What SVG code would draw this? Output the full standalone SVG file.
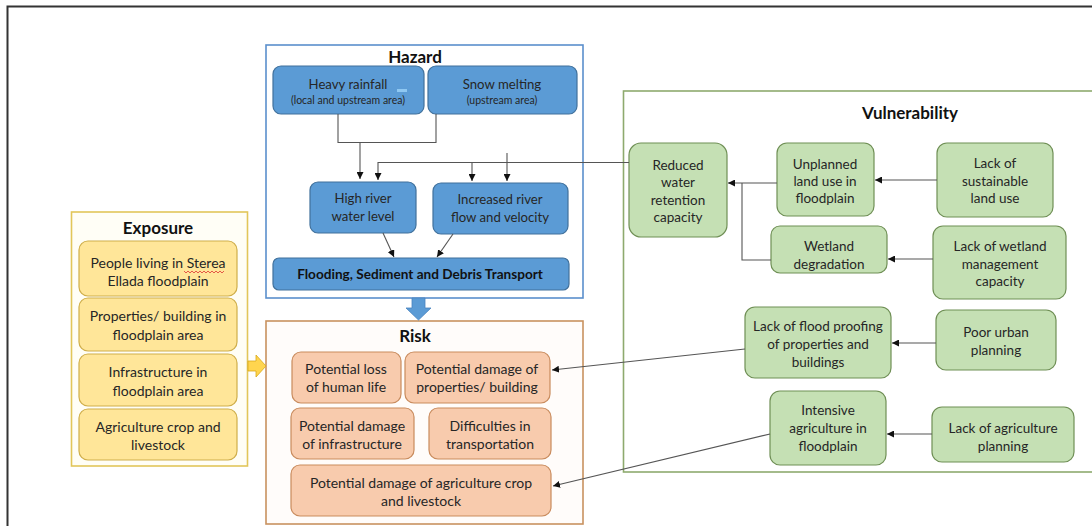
<svg xmlns="http://www.w3.org/2000/svg" width="1092" height="526" viewBox="0 0 1092 526">
<defs>
<marker id="ah" viewBox="0 0 10 10" refX="10" refY="5" markerWidth="7" markerHeight="7" markerUnits="userSpaceOnUse" orient="auto">
<path d="M0,0 L10,5 L0,10 z" fill="#111"/>
</marker>
<style>
text{font-family:Lato,"Open Sans","Liberation Sans",sans-serif;fill:#262626;text-anchor:middle;font-size:13.5px}
.t{font-weight:bold;font-size:17px;fill:#111}
.hz{font-size:13.2px}
.ex{font-size:14px}
.rk{font-size:14px}
.bl{fill:#5b9bd5;stroke:#41719c;stroke-width:1.2}
.or{fill:#f8cbad;stroke:#c98b5d;stroke-width:1.2}
.ye{fill:#ffe699;stroke:#cfae4a;stroke-width:1.2}
.gr{fill:#c5e0b4;stroke:#6f8f55;stroke-width:1.2}
.c{fill:none;stroke:#555;stroke-width:1.1}
.ca{fill:none;stroke:#555;stroke-width:1.1;marker-end:url(#ah)}
.sm{font-size:10.5px}
</style>
</defs>
<rect width="1092" height="526" fill="#fff"/>
<path d="M7.5,526 V6.5 H1092" fill="none" stroke="#333" stroke-width="2"/>

<g id="hazard">
<rect x="266" y="45" width="317" height="253" fill="#fff" stroke="#5b8fcc" stroke-width="1.6"/>
<text class="t" x="415" y="63">Hazard</text>
</g>
<g id="heavy-rainfall">
<rect class="bl" x="273" y="66" width="151" height="48" rx="8"/>
<text class="hz" x="348" y="89">Heavy rainfall</text>
<text class="sm" x="348" y="104">(local and upstream area)</text>
<rect x="397" y="89" width="10" height="3" fill="#8fc8f2"/>
</g>
<g id="snow-melting">
<rect class="bl" x="428" y="66" width="149" height="48" rx="8"/>
<text class="hz" x="502" y="89">Snow melting</text>
<text class="sm" x="502" y="104">(upstream area)</text>
</g>
<g id="high-river">
<rect class="bl" x="310" y="182" width="106" height="51" rx="8"/>
<text class="hz" x="363" y="203">High river</text>
<text class="hz" x="363" y="221">water level</text>
</g>
<g id="increased-river">
<rect class="bl" x="433" y="183" width="135" height="51" rx="8"/>
<text class="hz" x="500" y="204">Increased river</text>
<text class="hz" x="500" y="222">flow and velocity</text>
</g>
<g id="flooding">
<rect class="bl" x="273" y="258" width="296" height="32" rx="6"/>
<text x="420" y="279" style="font-weight:bold;font-size:13.6px;fill:#111">Flooding, Sediment and Debris Transport</text>
</g>

<g id="exposure">
<rect x="71.5" y="212" width="176" height="254" fill="#fffef6" stroke="#e2c65a" stroke-width="1.6"/>
<text class="t" x="158" y="234">Exposure</text>
</g>
<g id="people">
<rect class="ye" x="79" y="241" width="158" height="55" rx="9"/>
<text class="ex" x="158" y="268">People living in Sterea</text>
<text class="ex" x="158" y="286">Ellada floodplain</text>
<path d="M184,271 l2,2 l2,-2 l2,2 l2,-2 l2,2 l2,-2 l2,2 l2,-2 l2,2 l2,-2 l2,2 l2,-2 l2,2 l2,-2 l2,2 l2,-2 l2,2 l2,-2 l2,2 l2,-2" fill="none" stroke="#d33" stroke-width="0.8"/>
</g>
<g id="properties">
<rect class="ye" x="79" y="298" width="158" height="53" rx="9"/>
<text class="ex" x="158" y="321">Properties/ building in</text>
<text class="ex" x="158" y="340">floodplain area</text>
</g>
<g id="infrastructure">
<rect class="ye" x="79" y="354" width="158" height="52" rx="9"/>
<text class="ex" x="158" y="377">Infrastructure in</text>
<text class="ex" x="158" y="396">floodplain area</text>
</g>
<g id="agri-exp">
<rect class="ye" x="79" y="409" width="158" height="51" rx="9"/>
<text class="ex" x="158" y="432">Agriculture crop and</text>
<text class="ex" x="158" y="450">livestock</text>
</g>

<g id="risk">
<rect x="266" y="321" width="317" height="203" fill="#fffcfa" stroke="#c9925f" stroke-width="1.6"/>
<text class="t" x="415" y="342">Risk</text>
</g>
<g id="loss">
<rect class="or" x="292" y="352" width="109" height="51" rx="9"/>
<text class="rk" x="346" y="374">Potential loss</text>
<text class="rk" x="346" y="392">of human life</text>
</g>
<g id="damage-prop">
<rect class="or" x="405" y="352" width="145" height="51" rx="9"/>
<text class="rk" x="477" y="374">Potential damage of</text>
<text class="rk" x="477" y="392">properties/ building</text>
</g>
<g id="damage-infra">
<rect class="or" x="291" y="408" width="123" height="51" rx="9"/>
<text class="rk" x="352" y="431">Potential damage</text>
<text class="rk" x="352" y="449">of infrastructure</text>
</g>
<g id="difficulties">
<rect class="or" x="429" y="408" width="122" height="51" rx="9"/>
<text class="rk" x="490" y="431">Difficulties in</text>
<text class="rk" x="490" y="449">transportation</text>
</g>
<g id="damage-agri">
<rect class="or" x="291" y="465" width="260" height="51" rx="9"/>
<text class="rk" x="421" y="488">Potential damage of agriculture crop</text>
<text class="rk" x="421" y="506">and livestock</text>
</g>

<g id="vulnerability">
<rect x="623.5" y="91" width="470" height="381" fill="#fff" stroke="#8eaa6e" stroke-width="1.6"/>
<text class="t" x="910" y="119">Vulnerability</text>
</g>
<g id="reduced">
<rect class="gr" x="629" y="143" width="98" height="94" rx="12"/>
<text x="678" y="170">Reduced</text>
<text x="678" y="187">water</text>
<text x="678" y="205">retention</text>
<text x="678" y="222">capacity</text>
</g>
<g id="unplanned">
<rect class="gr" x="777" y="143" width="97" height="73" rx="10"/>
<text x="825" y="169">Unplanned</text>
<text x="825" y="186">land use in</text>
<text x="825" y="203">floodplain</text>
</g>
<g id="lack-sustainable">
<rect class="gr" x="937" y="143" width="116" height="74" rx="10"/>
<text x="995" y="168">Lack of</text>
<text x="995" y="186">sustainable</text>
<text x="995" y="203">land use</text>
</g>
<g id="wetland">
<rect class="gr" x="771" y="226" width="116" height="47" rx="9"/>
<text x="829" y="251">Wetland</text>
<text x="829" y="269">degradation</text>
</g>
<g id="lack-wetland">
<rect class="gr" x="933" y="226" width="133" height="73" rx="10"/>
<text x="1000" y="251">Lack of wetland</text>
<text x="1000" y="269">management</text>
<text x="1000" y="286">capacity</text>
</g>
<g id="flood-proofing">
<rect class="gr" x="745" y="307" width="146" height="71" rx="10"/>
<text x="818" y="331">Lack of flood proofing</text>
<text x="818" y="349">of properties and</text>
<text x="818" y="367">buildings</text>
</g>
<g id="poor-urban">
<rect class="gr" x="936" y="310" width="120" height="60" rx="10"/>
<text x="996" y="337">Poor urban</text>
<text x="996" y="355">planning</text>
</g>
<g id="intensive-agri">
<rect class="gr" x="770" y="391" width="116" height="74" rx="10"/>
<text x="828" y="415">Intensive</text>
<text x="828" y="433">agriculture in</text>
<text x="828" y="451">floodplain</text>
</g>
<g id="lack-agri">
<rect class="gr" x="932" y="407" width="142" height="55" rx="10"/>
<text x="1003" y="433">Lack of agriculture</text>
<text x="1003" y="451">planning</text>
</g>

<g id="connectors">
<path class="c" d="M338,114 V142.5 H436 V114"/>
<path class="ca" d="M360,142.5 V179"/>
<path class="ca" d="M629,162.5 H378 V180"/>
<path class="ca" d="M472,162.5 V181"/>
<path class="ca" d="M507,153 V181"/>
<path class="ca" d="M383,233 L394,257"/>
<path class="ca" d="M453,234 L437,257"/>
<path class="ca" d="M777,183 H728"/>
<path class="c" d="M742,183 V260 H771"/>
<path class="ca" d="M937,180 H875"/>
<path class="ca" d="M933,259 H888"/>
<path class="ca" d="M936,343 H892"/>
<path class="ca" d="M745,349 L552,370"/>
<path class="ca" d="M932,434 H887"/>
<path class="ca" d="M770,434 L553,486"/>
<path d="M412,298 H425 V308 H431 L418.5,320 L406,308 H412 Z" fill="#5b9bd5" stroke="#4a84bf" stroke-width="0.8"/>
<path d="M248,361 H256 V355 L266,366 L256,377 V371 H248 Z" fill="#ffd54f" stroke="#d9a818" stroke-width="0.8"/>
</g>
</svg>
